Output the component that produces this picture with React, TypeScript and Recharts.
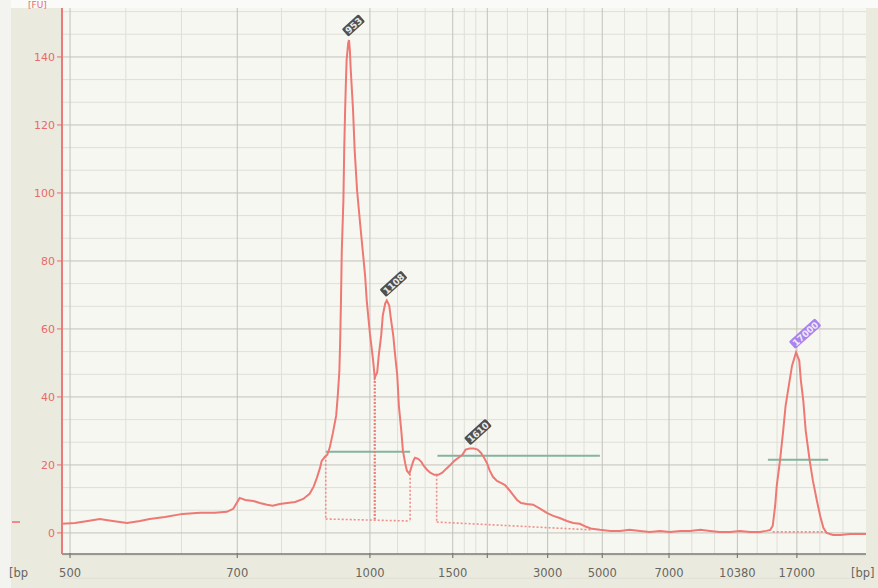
import React from "react";
import { ComposedChart, Line, XAxis, YAxis, CartesianGrid, ReferenceLine, ReferenceDot } from "recharts";

// migration position (0 = left edge of plot, 100 = right edge) and fluorescence [FU]
const migration = [
  0.0, 1.6, 3.2, 4.7, 6.3, 8.1, 9.7, 10.9, 12.8, 15.0, 17.2, 19.0, 20.5, 21.3, 21.8, 22.1, 22.8, 23.8, 24.6, 25.5,
  26.2, 27.1, 28.0, 29.0, 30.0, 30.8, 31.3, 31.7, 32.1, 32.3, 32.7, 33.0, 33.3, 33.7, 34.1, 34.3, 34.5, 34.6, 34.7, 34.8,
  35.0, 35.1, 35.2, 35.3, 35.4, 35.6, 35.7, 35.8, 35.9, 36.2, 36.4, 36.7, 37.1, 37.4, 37.7, 37.9, 38.3, 38.7, 38.9, 39.2,
  39.4, 39.7, 39.9, 40.2, 40.4, 40.7, 40.9, 41.2, 41.4, 41.7, 41.9, 42.2, 42.4, 42.7, 42.9, 43.2, 43.4, 43.7, 43.9, 44.3,
  44.7, 45.0, 45.4, 45.8, 46.3, 46.8, 47.3, 47.8, 48.3, 48.8, 49.3, 49.8, 50.2, 50.7, 51.2, 51.7, 52.1, 52.5, 52.9, 53.2,
  53.6, 54.1, 54.6, 55.1, 55.6, 56.1, 56.6, 57.1, 57.8, 58.6, 59.5, 60.3, 61.1, 61.9, 62.8, 63.6, 64.4, 65.2, 65.9, 66.9,
  68.2, 69.4, 70.6, 71.9, 73.1, 74.4, 75.6, 76.9, 78.1, 79.4, 80.6, 81.8, 83.1, 84.3, 85.6, 86.8, 87.6, 88.1, 88.4, 88.7,
  88.9, 89.3, 89.7, 90.0, 90.4, 90.8, 91.3, 91.7, 91.9, 92.2, 92.5, 93.0, 93.4, 93.9, 94.3, 94.7, 95.1, 95.9, 96.8, 98.0,
  99.0, 100.0,
];
const fluorescence = [
  2.7, 2.9, 3.5, 4.1, 3.5, 2.9, 3.5, 4.1, 4.7, 5.6, 5.9, 5.9, 6.2, 7.1, 9.1, 10.3, 9.7, 9.4, 8.8, 8.3,
  8.0, 8.5, 8.8, 9.1, 10.0, 11.5, 13.6, 16.2, 19.2, 21.2, 22.4, 23.0, 25.1, 29.5, 34.5, 40.4, 47.7, 56.6, 68.4, 83.1,
  97.8, 112.6, 122.9, 131.7, 139.1, 144.1, 145.0, 142.1, 136.8, 124.4, 112.6, 100.8, 90.5, 83.1, 75.7, 68.4, 58.6, 50.7, 45.7, 47.2,
  52.2, 58.1, 64.0, 67.5, 68.4, 66.9, 63.1, 58.1, 53.1, 46.3, 37.4, 30.1, 24.2, 20.3, 18.3, 17.4, 18.9, 21.2, 22.1, 21.8,
  20.9, 19.7, 18.6, 17.7, 17.1, 17.1, 17.7, 18.9, 20.0, 21.2, 22.1, 23.0, 24.5, 24.8, 24.8, 24.5, 23.6, 22.1, 20.3, 18.3,
  16.5, 15.3, 14.7, 14.1, 12.7, 11.2, 9.7, 8.8, 8.5, 8.3, 7.1, 5.9, 5.0, 4.4, 3.5, 2.9, 2.7, 1.8, 1.2, 0.9,
  0.6, 0.6, 0.9, 0.6, 0.3, 0.6, 0.3, 0.6, 0.6, 0.9, 0.6, 0.3, 0.3, 0.6, 0.3, 0.3, 0.6, 0.9, 2.1, 8.0,
  13.9, 21.2, 30.1, 37.4, 43.3, 49.2, 53.1, 50.7, 44.8, 38.9, 30.1, 21.2, 15.3, 9.4, 5.0, 1.5, 0.0, -0.6, -0.6, -0.3,
  -0.3, -0.3,
];

// ladder ticks (bp) along the migration axis
const ladderPos = [1.0, 21.8, 38.3, 48.6, 52.9, 60.4, 67.2, 75.5, 84.0, 91.4];
const ladderLabels = ["500", "700", "1000", "1500", "", "3000", "5000", "7000", "10380", "17000"];
const yTicks = [0, 20, 40, 60, 80, 100, 120, 140];

// called peaks
const peakPos = [35.7, 40.4, 50.9, 91.3];
const peakHeight = [145.0, 68.4, 24.8, 53.1];
const peakLabels = ["953", "1108", "1610", "17000"];
const peakColors = ["#3d3d3d", "#3d3d3d", "#3d3d3d", "#a274f2"];

// smear regions: [start, end], baseline at start/end, level bar height
const regionStart = [32.8, 46.6, 88.4];
const regionEnd = [43.3, 65.9, 95.1];
const regionBaseStart = [4.1, 3.2, 0.3];
const regionBaseEnd = [3.5, 0.9, 0.3];
const regionBarStart = [32.8, 46.7, 87.8];
const regionBarEnd = [43.3, 66.9, 95.3];
const regionBarLevel = [23.9, 22.7, 21.5];
const regionEdgeTop = [22.7, 17.1, 0.3];
const regionEndTop = [17.4, 0.9, 0.3];
const valleyPos = 38.9;
const valleyTop = 45.7;

const data = migration.map((t, i) => ({ t, v: fluorescence[i] }));

const gridMajorX = ladderPos;
const gridMinorX: number[] = [];
[...ladderPos, 100].forEach((p, i, arr) => {
  if (i === 0) return;
  const a = arr[i - 1];
  gridMinorX.push(a + (p - a) / 3, a + (2 * (p - a)) / 3);
});
const gridMinorY: number[] = [];
[-20, ...yTicks].forEach((m) => gridMinorY.push(m + 20 / 3, m + 40 / 3));

const TRACE = "#ee7873";
const FONT = "'DejaVu Sans', Verdana, sans-serif";

function XTick(props: any) {
  const { x, y, index } = props;
  const label = index < ladderLabels.length ? ladderLabels[index] : "[bp]";
  return (
    <g>
      {index < ladderLabels.length && <line x1={x} y1={y - 1} x2={x} y2={y + 4} stroke="#7a7a74" strokeWidth={1.2} />}
      <text x={x} y={y + 23} textAnchor="middle" fontSize={11.5} fill="#666660" fontFamily={FONT}>
        {label}
      </text>
    </g>
  );
}

function PeakTag({ cx, cy, label, color }: any) {
  const w = label.length * 6.2 + 4;
  return (
    <g transform={`translate(${cx - 4},${cy - 7}) rotate(-42)`}>
      <rect x={0} y={-5} width={w} height={10} fill={color} rx={1.5} opacity={0.9} />
      <text x={2} y={3.5} fontSize={9} fontWeight="bold" fill="#ececec" fontFamily={FONT}>
        {label}
      </text>
    </g>
  );
}

export default function App() {
  return (
    <div style={{ position: "fixed", left: 0, top: 0, width: 878, height: 588, background: "#ebeadf", overflow: "hidden" }}>
      <div style={{ position: "absolute", left: 0, top: 0, width: 878, height: 8, background: "#fafaf8" }} />
      <div style={{ position: "absolute", left: 0, top: 0, width: 11, height: 588, background: "#f3f3ef" }} />
      <div style={{ position: "absolute", left: 12, top: 521, width: 8, height: 2, background: "#f08a8a" }} />
      <span style={{ position: "absolute", left: 28, top: 0, fontSize: 9, lineHeight: "10px", color: "#e86a6a", fontFamily: FONT }}>[FU]</span>
      <span style={{ position: "absolute", left: 9, top: 566, fontSize: 11.5, color: "#666660", fontFamily: FONT }}>[bp</span>
      <div style={{ position: "absolute", left: 0, top: 0 }}>
        <ComposedChart width={878} height={588} data={data} margin={{ top: 8, right: 12, bottom: 0, left: 0 }}>
          <CartesianGrid
            fill="#f7f7f1"
            stroke="#dfdfd8"
            horizontalValues={gridMinorY}
            verticalValues={gridMinorX}
          />
          <CartesianGrid stroke="#c2c2bc" horizontalValues={yTicks} verticalValues={gridMajorX} />
          <XAxis
            type="number"
            dataKey="t"
            domain={[0, 100]}
            ticks={[...ladderPos, 99.6]}
            interval={0}
            tick={<XTick />}
            tickLine={false}
            tickSize={0}
            tickMargin={0}
            height={34}
            axisLine={{ stroke: "#7a7a74", strokeWidth: 1.5 }}
            allowDataOverflow
          />
          <YAxis
            type="number"
            domain={[-6.2, 154.4]}
            ticks={yTicks}
            interval={0}
            width={62}
            tickSize={5}
            tickMargin={2}
            tick={{ fill: "#e86a6a", fontSize: 11, fontFamily: FONT }}
            tickLine={{ stroke: "#e86a6a" }}
            axisLine={{ stroke: "#ec7a7a", strokeWidth: 2 }}
            allowDataOverflow
          />
          {regionStart.map((s, i) => (
            <ReferenceLine
              key={`bar${i}`}
              segment={[
                { x: regionBarStart[i], y: regionBarLevel[i] },
                { x: regionBarEnd[i], y: regionBarLevel[i] },
              ]}
              stroke="#86b3a0"
              strokeWidth={2}
            />
          ))}
          {regionStart.map((s, i) => (
            <ReferenceLine
              key={`base${i}`}
              segment={[
                { x: s, y: regionBaseStart[i] },
                { x: regionEnd[i], y: regionBaseEnd[i] },
              ]}
              stroke="#f08e8a"
              strokeWidth={1.6}
              strokeDasharray="2 2"
            />
          ))}
          {regionStart.slice(0, 2).map((s, i) => (
            <ReferenceLine
              key={`edgeL${i}`}
              segment={[
                { x: s, y: regionEdgeTop[i] },
                { x: s, y: regionBaseStart[i] },
              ]}
              stroke="#f08e8a"
              strokeWidth={1.6}
              strokeDasharray="2 2"
            />
          ))}
          <ReferenceLine
            segment={[
              { x: regionEnd[0], y: regionEndTop[0] },
              { x: regionEnd[0], y: regionBaseEnd[0] },
            ]}
            stroke="#f08e8a"
            strokeWidth={1.6}
            strokeDasharray="2 2"
          />
          <ReferenceLine
            segment={[
              { x: valleyPos, y: valleyTop },
              { x: valleyPos, y: regionBaseStart[0] - 0.3 },
            ]}
            stroke="#ee7c78"
            strokeWidth={2.2}
            strokeDasharray="2 1.5"
          />
          <Line
            type="linear"
            dataKey="v"
            stroke={TRACE}
            strokeWidth={2}
            dot={false}
            activeDot={false}
            isAnimationActive={false}
          />
          {peakPos.map((p, i) => (
            <ReferenceDot
              key={`pk${i}`}
              x={p}
              y={peakHeight[i]}
              r={0}
              shape={(props: any) => <PeakTag cx={props.cx} cy={props.cy} label={peakLabels[i]} color={peakColors[i]} />}
            />
          ))}
        </ComposedChart>
      </div>
    </div>
  );
}
